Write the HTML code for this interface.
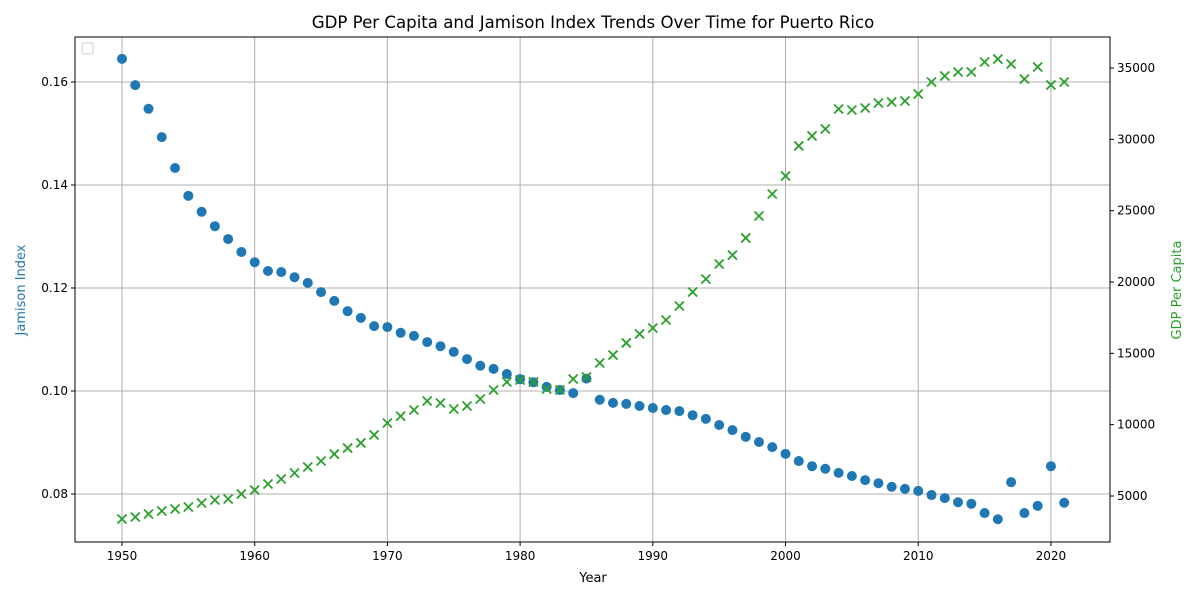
<!DOCTYPE html>
<html><head><meta charset="utf-8"><style>
body{margin:0;background:#fff;}
svg text{font-family:"DejaVu Sans","Liberation Sans",sans-serif;}
</style></head><body>
<svg id="chart" width="1200" height="600" xmlns="http://www.w3.org/2000/svg">
<rect width="1200" height="600" fill="#fff"/>
<text x="593" y="28" font-size="16.6" text-anchor="middle" fill="#000">GDP Per Capita and Jamison Index Trends Over Time for Puerto Rico</text>
<g id="grid"></g><g id="marks"></g><g id="axes"></g>
<rect x="82" y="43" width="11" height="11" rx="2" fill="#fff" stroke="#ccc"/>
<text x="593" y="582" font-size="13" text-anchor="middle">Year</text>
<text transform="translate(25,290) rotate(-90)" font-size="13" text-anchor="middle" fill="#1f77b4">Jamison Index</text>
<text transform="translate(1181,290) rotate(-90)" font-size="13" text-anchor="middle" fill="#2ca02c">GDP Per Capita</text>
</svg>
<script>
const years = [];
for (let y = 1950; y <= 2021; y++) years.push(y);
const jamison = [0.1645,0.1594,0.1548,0.1493,0.1433,0.1379,0.1348,0.1320,0.1295,0.1270,0.1250,0.1233,0.1231,0.1221,0.1210,0.1192,0.1175,0.1155,0.1142,0.1126,0.1124,0.1113,0.1107,0.1095,0.1087,0.1076,0.1062,0.1049,0.1043,0.1033,0.1023,0.1017,0.1008,0.1002,0.0996,0.1024,0.0983,0.0977,0.0975,0.0971,0.0967,0.0963,0.0961,0.0953,0.0946,0.0934,0.0924,0.0911,0.0901,0.0891,0.0878,0.0864,0.0854,0.0849,0.0841,0.0835,0.0827,0.0821,0.0814,0.0810,0.0806,0.0798,0.0792,0.0784,0.0781,0.0763,0.0751,0.0823,0.0763,0.0777,0.0854,0.0783];
const gdp = [3388,3528,3738,3950,4090,4230,4510,4720,4790,5140,5420,5840,6190,6610,7030,7450,7940,8360,8720,9280,10120,10600,11030,11660,11520,11100,11310,11800,12430,12990,13130,12990,12500,12430,13200,13340,14320,14880,15730,16360,16780,17340,18320,19300,20210,21260,21890,23090,24630,26170,27430,29540,30240,30730,32130,32060,32200,32550,32620,32690,33180,34020,34440,34720,34720,35420,35630,35280,34230,35070,33810,34020];
const xTicks = [1950,1960,1970,1980,1990,2000,2010,2020];
const leftTicks = [0.08,0.10,0.12,0.14,0.16];
const rightTicks = [5000,10000,15000,20000,25000,30000,35000];

const L=75,R=1110,T=37,B=542;
const xMin=1946.46,xMax=2024.45,lMin=0.07068,lMax=0.16874,rMin=1775,rMax=37176;
const sx=v=>L+(v-xMin)/(xMax-xMin)*(R-L);
const syL=v=>B-(v-lMin)/(lMax-lMin)*(B-T);
const syR=v=>B-(v-rMin)/(rMax-rMin)*(B-T);
const NS="http://www.w3.org/2000/svg";
function mk(tag,attrs,parent,txt){const e=document.createElementNS(NS,tag);for(const k in attrs)e.setAttribute(k,attrs[k]);if(txt!==undefined)e.textContent=txt;parent.appendChild(e);return e;}
const grid=document.getElementById('grid'),marks=document.getElementById('marks'),axes=document.getElementById('axes');

xTicks.forEach(t=>{const x=sx(t);
 const g=mk('line',{x1:x,x2:x,y1:T,y2:B,stroke:'#b0b0b0','stroke-width':1},grid);
 
 
 mk('line',{x1:x,x2:x,y1:B,y2:B+4,stroke:'#000'},axes);
 const lb=mk('text',{x:x,y:B+18,'font-size':12,'text-anchor':'middle'},axes,String(t));
 
 
});
leftTicks.forEach(t=>{const y=syL(t);
 const g=mk('line',{x1:L,x2:R,y1:y,y2:y,stroke:'#b0b0b0','stroke-width':1},grid);
 
 
 mk('line',{x1:L-4,x2:L,y1:y,y2:y,stroke:'#000'},axes);
 const lb=mk('text',{x:L-7,y:y+4,'font-size':12,'text-anchor':'end'},axes,t.toFixed(2));
 
 
});
rightTicks.forEach(t=>{const y=syR(t);
 mk('line',{x1:R,x2:R+4,y1:y,y2:y,stroke:'#000'},axes);
 const lb=mk('text',{x:R+7,y:y+4,'font-size':12,'text-anchor':'start'},axes,String(t));
 
 
});
const frame=mk('rect',{x:L,y:T,width:R-L,height:B-T,fill:'none',stroke:'#000','stroke-width':1},axes);



years.forEach((yr,i)=>{
 const c=mk('circle',{cx:sx(yr),cy:syL(jamison[i]),r:5,fill:'#1f77b4'},marks);
 
 
});
years.forEach((yr,i)=>{
 const x=sx(yr),y=syR(gdp[i]),d=4.5;
 const p=mk('path',{d:`M${x-d},${y-d}L${x+d},${y+d}M${x-d},${y+d}L${x+d},${y-d}`,stroke:'#2ca02c','stroke-width':1.8,fill:'none'},marks);
 
 
});
</script>
</body></html>
